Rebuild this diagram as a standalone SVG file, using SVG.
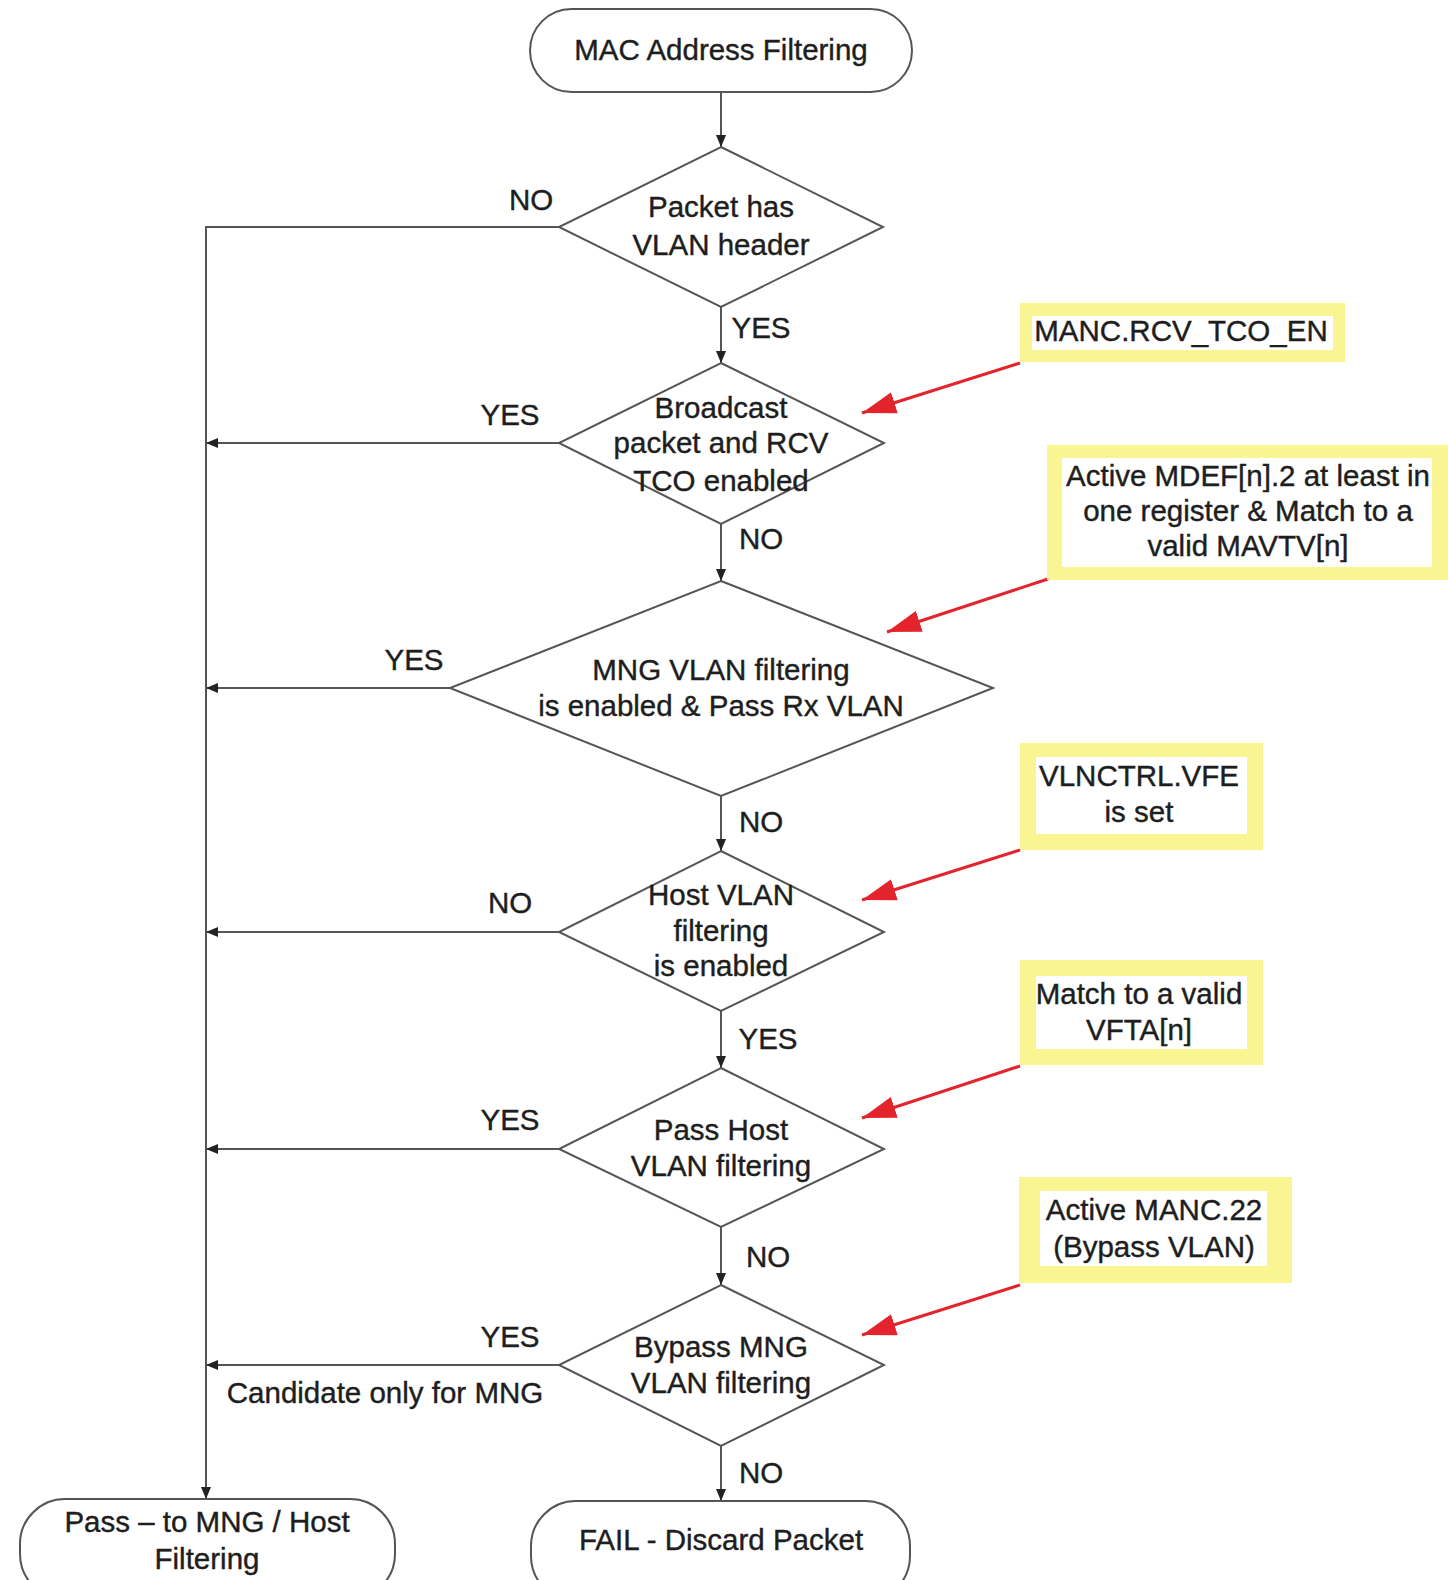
<svg xmlns="http://www.w3.org/2000/svg" width="1448" height="1580" viewBox="0 0 1448 1580">
<style>
text{font-family:"Liberation Sans",Arial,sans-serif;font-size:29.5px;fill:#1e1e1e;stroke:#1e1e1e;stroke-width:0.4;text-anchor:middle}
.shape{fill:#fff;stroke:#555;stroke-width:2}
.conn{fill:none;stroke:#555;stroke-width:2}
.red{fill:none;stroke:#e4242c;stroke-width:3}
.ybox{fill:#faf593}
.yin{fill:#fff}
</style>
<defs>
<marker id="ah" viewBox="0 0 12 10" refX="12" refY="5" markerWidth="12" markerHeight="10" markerUnits="userSpaceOnUse" orient="auto">
<path d="M0,0 L12,5 L0,10 z" fill="#222"/>
</marker>
<marker id="rh" viewBox="0 0 34 22" refX="34" refY="11" markerWidth="34" markerHeight="22" markerUnits="userSpaceOnUse" orient="auto">
<path d="M0,0 L34,11 L0,22 z" fill="#e4242c"/>
</marker>
</defs>

<g id="connectors">
<line class="conn" x1="721" y1="92" x2="721" y2="147" marker-end="url(#ah)"/>
<line class="conn" x1="721" y1="307" x2="721" y2="363" marker-end="url(#ah)"/>
<line class="conn" x1="721" y1="524" x2="721" y2="581" marker-end="url(#ah)"/>
<line class="conn" x1="721" y1="796" x2="721" y2="851" marker-end="url(#ah)"/>
<line class="conn" x1="721" y1="1011" x2="721" y2="1068" marker-end="url(#ah)"/>
<line class="conn" x1="721" y1="1227" x2="721" y2="1285" marker-end="url(#ah)"/>
<line class="conn" x1="721" y1="1446" x2="721" y2="1501" marker-end="url(#ah)"/>
<polyline class="conn" points="559,227 206,227 206,1499" marker-end="url(#ah)"/>
<line class="conn" x1="559" y1="443" x2="206" y2="443" marker-end="url(#ah)"/>
<line class="conn" x1="450" y1="688" x2="206" y2="688" marker-end="url(#ah)"/>
<line class="conn" x1="559" y1="932" x2="206" y2="932" marker-end="url(#ah)"/>
<line class="conn" x1="559" y1="1149" x2="206" y2="1149" marker-end="url(#ah)"/>
<line class="conn" x1="559" y1="1365" x2="206" y2="1365" marker-end="url(#ah)"/>
<line class="red" x1="1020" y1="363" x2="862" y2="413" marker-end="url(#rh)"/>
<line class="red" x1="1048" y1="579" x2="887" y2="632" marker-end="url(#rh)"/>
<line class="red" x1="1020" y1="850" x2="862" y2="900" marker-end="url(#rh)"/>
<line class="red" x1="1020" y1="1066" x2="862" y2="1118" marker-end="url(#rh)"/>
<line class="red" x1="1020" y1="1285" x2="862" y2="1335" marker-end="url(#rh)"/>
</g>

<g id="labels">
<text x="531" y="210">NO</text>
<text x="761" y="338">YES</text>
<text x="510" y="425">YES</text>
<text x="761" y="549">NO</text>
<text x="414" y="670">YES</text>
<text x="761" y="832">NO</text>
<text x="510" y="913">NO</text>
<text x="768" y="1049">YES</text>
<text x="510" y="1130">YES</text>
<text x="768" y="1267">NO</text>
<text x="510" y="1347">YES</text>
<text x="385" y="1403">Candidate only for MNG</text>
<text x="761" y="1483">NO</text>
</g>

<g id="start">
<rect class="shape" x="530" y="9" width="382" height="83" rx="41.5"/>
<text x="721" y="60">MAC Address Filtering</text>
</g>

<g id="d1">
<polygon class="shape" points="721,147 883,227 721,307 559,227"/>
<text x="721" y="217">Packet has</text>
<text x="721" y="255">VLAN header</text>
</g>

<g id="d2">
<polygon class="shape" points="721,363 884,443 721,524 559,443"/>
<text x="721" y="418">Broadcast</text>
<text x="721" y="453">packet and RCV</text>
<text x="721" y="491">TCO enabled</text>
</g>

<g id="d3">
<polygon class="shape" points="721,581 993,688 721,796 450,688"/>
<text x="721" y="680">MNG VLAN filtering</text>
<text x="721" y="716">is enabled &amp; Pass Rx VLAN</text>
</g>

<g id="d4">
<polygon class="shape" points="721,851 884,932 721,1011 559,932"/>
<text x="721" y="905">Host VLAN</text>
<text x="721" y="941">filtering</text>
<text x="721" y="976">is enabled</text>
</g>

<g id="d5">
<polygon class="shape" points="721,1068 884,1149 721,1227 559,1149"/>
<text x="721" y="1140">Pass Host</text>
<text x="721" y="1176">VLAN filtering</text>
</g>

<g id="d6">
<polygon class="shape" points="721,1285 884,1365 721,1446 559,1365"/>
<text x="721" y="1357">Bypass MNG</text>
<text x="721" y="1393">VLAN filtering</text>
</g>

<g id="pass">
<rect class="shape" x="20" y="1499" width="375" height="100" rx="45"/>
<text x="207" y="1532">Pass – to MNG / Host</text>
<text x="207" y="1569">Filtering</text>
</g>

<g id="fail">
<rect class="shape" x="531" y="1501" width="379" height="100" rx="45"/>
<text x="721" y="1550">FAIL - Discard Packet</text>
</g>

<g id="n-manc">
<rect class="ybox" x="1020" y="303" width="325" height="59"/>
<rect class="yin" x="1032" y="316" width="301" height="34"/>
<text x="1181" y="341">MANC.RCV_TCO_EN</text>
</g>

<g id="n-mdef">
<rect class="ybox" x="1047" y="445" width="413" height="135"/>
<rect class="yin" x="1062" y="458" width="370" height="109"/>
<text x="1248" y="486">Active MDEF[n].2 at least in</text>
<text x="1248" y="521">one register &amp; Match to a</text>
<text x="1248" y="556">valid MAVTV[n]</text>
</g>

<g id="n-vlnctrl">
<rect class="ybox" x="1020" y="743" width="243" height="107"/>
<rect class="yin" x="1036" y="757" width="211" height="77"/>
<text x="1139" y="786">VLNCTRL.VFE</text>
<text x="1139" y="822">is set</text>
</g>

<g id="n-vfta">
<rect class="ybox" x="1020" y="960" width="243" height="105"/>
<rect class="yin" x="1036" y="976" width="211" height="73"/>
<text x="1139" y="1004">Match to a valid</text>
<text x="1139" y="1040">VFTA[n]</text>
</g>

<g id="n-manc22">
<rect class="ybox" x="1019" y="1177" width="273" height="106"/>
<rect class="yin" x="1040" y="1191" width="227" height="75"/>
<text x="1154" y="1220">Active MANC.22</text>
<text x="1154" y="1257">(Bypass VLAN)</text>
</g>
</svg>
